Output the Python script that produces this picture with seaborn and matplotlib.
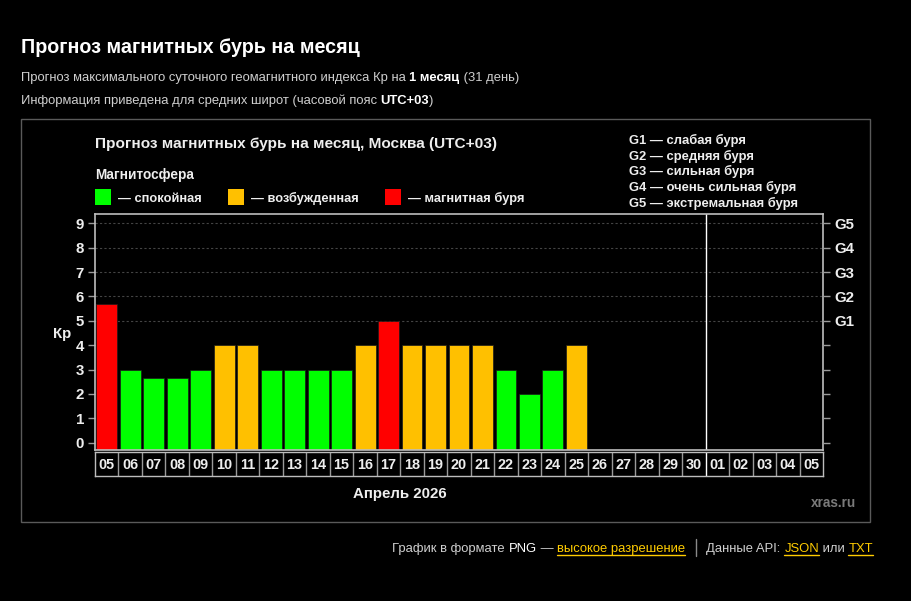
# Прогноз магнитных бурь на месяц (xras.ru)
import numpy as np
import pandas as pd
import matplotlib
matplotlib.use("Agg")
import matplotlib.pyplot as plt
from matplotlib.lines import Line2D
from matplotlib.patches import Rectangle
import seaborn as sns

sns.set_theme(style='white')
plt.rcParams['font.family'] = ['Liberation Sans', 'DejaVu Sans']

# data
days = ['05', '06', '07', '08', '09', '10', '11', '12', '13', '14', '15', '16',
        '17', '18', '19', '20', '21', '22', '23', '24', '25', '26', '27', '28',
        '29', '30', '01', '02', '03', '04', '05']
kp = [5.67, 3, 2.67, 2.67, 3, 4, 4, 3, 3, 3, 3, 4,
      5, 4, 4, 4, 4, 3, 2, 3, 4]
state = ['буря', 'спокойная', 'спокойная', 'спокойная', 'спокойная', 'возбужденная',
         'возбужденная', 'спокойная', 'спокойная', 'спокойная', 'спокойная',
         'возбужденная', 'буря', 'возбужденная', 'возбужденная', 'возбужденная',
         'возбужденная', 'спокойная', 'спокойная', 'спокойная', 'возбужденная']
palette = {'спокойная': '#00ff00', 'возбужденная': '#ffc000', 'буря': '#ff0000'}
g_levels = ['G1', 'G2', 'G3', 'G4', 'G5']
g_names = ['слабая буря', 'средняя буря', 'сильная буря',
           'очень сильная буря', 'экстремальная буря']
month_label = 'Апрель 2026'

W, H = 912, 601
fig = plt.figure(figsize=(W / 100, H / 100), dpi=100, facecolor='black')
renderer = fig.canvas.get_renderer()


def fx(x):
    return x / W


def fy(y):
    return 1 - y / H


def rich(x, y, parts, size, ha='left'):
    # parts: (text, color, weight, underline)
    objs = []
    widths = []
    for txt, col, wt, ul in parts:
        t = fig.text(fx(x), fy(y), txt, color=col, fontsize=size, fontweight=wt,
                     va='baseline', ha='left')
        w = t.get_window_extent(renderer).width
        objs.append(t)
        widths.append(w)
    total = sum(widths)
    cx = x - total if ha == 'right' else x
    for (txt, col, wt, ul), t, w in zip(parts, objs, widths):
        t.set_x(fx(cx))
        if ul:
            fig.add_artist(Line2D([fx(cx), fx(cx + w)], [fy(y + 3), fy(y + 3)],
                                  color=col, lw=1))
        cx += w


# page header
fig.text(fx(21), fy(53), 'Прогноз магнитных бурь на месяц', color='white',
         fontsize=14.2, fontweight='bold', va='baseline')
rich(21, 81, [('Прогноз максимального суточного геомагнитного индекса Кр на ', '#cfcfcf', 'normal', False),
              ('1 месяц', 'white', 'bold', False),
              (' (31 день)', '#cfcfcf', 'normal', False)], 9.4)
rich(21, 104, [('Информация приведена для средних широт (часовой пояс ', '#cfcfcf', 'normal', False),
               ('UTC+03', 'white', 'bold', False),
               (')', '#cfcfcf', 'normal', False)], 9.4)

# chart frame
fig.add_artist(Rectangle((fx(21), fy(522)), fx(870 - 21), (522 - 119) / H,
                         facecolor='black', edgecolor='#5a5a5a', lw=1, zorder=-10))

fig.text(fx(95), fy(148), 'Прогноз магнитных бурь на месяц, Москва (UTC+03)',
         color='#eeeeee', fontsize=11.1, fontweight='bold', va='baseline')
fig.text(fx(95), fy(179), 'Магнитосфера', color='#eeeeee', fontsize=9.8,
         fontweight='bold', va='baseline')
for sx, key, label in [(95, 'спокойная', '— спокойная'),
                       (228, 'возбужденная', '— возбужденная'),
                       (385, 'буря', '— магнитная буря')]:
    fig.add_artist(Rectangle((fx(sx), fy(205)), 16 / W, 16 / H,
                             facecolor=palette[key], edgecolor='none'))
    fig.text(fx(sx + 23), fy(202), label, color='#eeeeee', fontsize=9.3,
             fontweight='bold', va='baseline')

for i, (g, n) in enumerate(zip(g_levels, g_names)):
    fig.text(fx(629), fy(144 + i * 15.7), f'{g} — {n}', color='#eeeeee',
             fontsize=9.4, fontweight='bold', va='baseline')

# main axes
ax = fig.add_axes([fx(95), fy(450), 728 / W, (450 - 214) / H])
ax.set_facecolor('black')
df = pd.DataFrame({'pos': range(len(kp)), 'kp': kp, 'state': state})
sns.barplot(data=df, x='pos', y='kp', hue='state', palette=palette,
            order=list(range(len(days))), dodge=False, width=0.89, saturation=1,
            edgecolor='#1a1a1a', linewidth=0.5, legend=False, ax=ax)
ybot = -0.3
for p in ax.patches:
    h = p.get_height()
    if np.isfinite(h):
        p.set_y(ybot)
        p.set_height(h - ybot)
ax.set_xlim(-0.5, len(days) - 0.5)
ax.set_ylim(ybot, 9.38)
for lvl in range(5, 10):
    ax.axhline(lvl, color='#444444', lw=0.8, ls=(0, (2, 2)), zorder=0)
ax.axvline(25.5, color='white', lw=1)
ax.set_xticks([])
ax.set_xlabel('')
ax.set_ylabel('')
ax.set_yticks(range(10))
ax.set_yticklabels([str(i) for i in range(10)], color='#eeeeee',
                   fontsize=10.8, fontweight='bold')
ax.tick_params(axis='y', left=True, length=5, width=1, color='#9a9a9a', pad=3)
for s in ax.spines.values():
    s.set_color('#bdbdbd')
    s.set_linewidth(1.2)

axr = ax.twinx()
axr.set_ylim(ax.get_ylim())
axr.set_yticks(range(10))
axr.set_yticklabels([''] * 5 + g_levels, color='#eeeeee', fontsize=10.8,
                    fontweight='bold')
axr.tick_params(axis='y', right=True, length=5, width=1, color='#9a9a9a', pad=3)
for s in axr.spines.values():
    s.set_visible(False)

fig.text(fx(62), fy(338), 'Кр', color='#eeeeee', fontsize=10.8,
         fontweight='bold', ha='center', va='baseline')

# day label boxes
axd = fig.add_axes([fx(95), fy(476), 728 / W, 24 / H])
axd.set_facecolor('black')
axd.set_xlim(ax.get_xlim())
axd.set_ylim(0, 1)
axd.set_xticks([])
axd.set_yticks([])
for i, d in enumerate(days):
    axd.text(i, 0.45, d, color='#eeeeee', fontsize=10.4, fontweight='bold',
             ha='center', va='center')
    if i < len(days) - 1:
        axd.axvline(i + 0.5, color='white' if i == 25 else '#9a9a9a', lw=1)
for s in axd.spines.values():
    s.set_color('#bdbdbd')
    s.set_linewidth(1)

fig.text(fx(400), fy(498), month_label, color='#eeeeee', fontsize=10.8,
         fontweight='bold', ha='center', va='baseline')
fig.text(fx(856), fy(507), 'xras.ru', color='#7a7a7a', fontsize=9.8,
         fontweight='bold', ha='right', va='baseline')

# footer
rich(873, 552, [('Данные API: ', '#cfcfcf', 'normal', False),
                ('JSON', '#ffcc00', 'normal', True),
                (' или ', '#cfcfcf', 'normal', False),
                ('TXT', '#ffcc00', 'normal', True)], 9.4, ha='right')
rich(685, 552, [('График в формате ', '#cfcfcf', 'normal', False),
                ('PNG', 'white', 'normal', False),
                (' — ', '#cfcfcf', 'normal', False),
                ('высокое разрешение', '#ffcc00', 'normal', True)], 9.4, ha='right')
fig.add_artist(Line2D([fx(696), fx(696)], [fy(539), fy(556)], color='#8a8a8a', lw=1))

fig.savefig('out.png', dpi=100, facecolor='black')
